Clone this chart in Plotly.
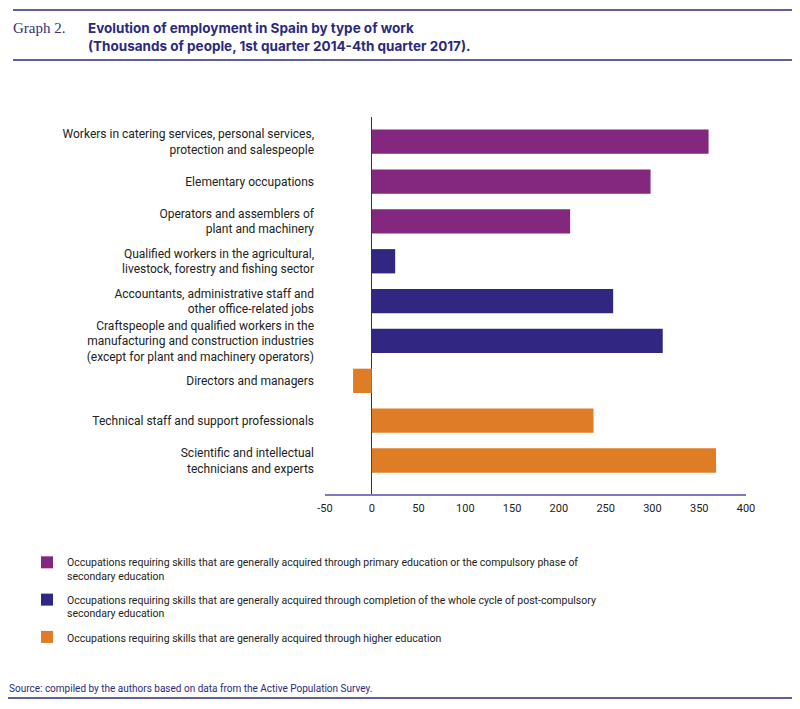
import plotly.graph_objects as go

# categories from bottom to top of the chart
categories = [
    "Scientific and intellectual<br>technicians and experts",
    "Technical staff and support professionals",
    "Directors and managers",
    "Craftspeople and qualified workers in the<br>manufacturing and construction industries<br>(except for plant and machinery operators)",
    "Accountants, administrative staff and<br>other office-related jobs",
    "Qualified workers in the agricultural,<br>livestock, forestry and fishing sector",
    "Operators and assemblers of<br>plant and machinery",
    "Elementary occupations",
    "Workers in catering services, personal services,<br>protection and salespeople",
]

higher_cats = categories[0:3]
higher_vals = [368, 237, -20]

post_cats = categories[3:6]
post_vals = [311, 258, 25]

primary_cats = categories[6:9]
primary_vals = [212, 298, 360]

legend_names = [
    "Occupations requiring skills that are generally acquired through primary education or the compulsory phase of<br>secondary education",
    "Occupations requiring skills that are generally acquired through completion of the whole cycle of post-compulsory<br>secondary education",
    "Occupations requiring skills that are generally acquired through higher education",
]

x_ticks = [-50, 0, 50, 100, 150, 200, 250, 300, 350, 400]

PURPLE = "#84277F"
NAVY = "#312782"
ORANGE = "#DF7D27"
DARK = "#2B2A7C"

# the page body adds an 8px margin, so the figure is drawn 8px in from the window corner
OFF = 8
W, H = 800 - OFF, 709 - OFF
L, R, T, B = 325 - OFF, 54, 117 - OFF, 215
PW, PH = W - L - R, H - T - B


def px(x):
    # window pixel -> paper x
    return (x - OFF - L) / PW


def py(y):
    # window pixel -> paper y
    return (H + OFF - B - y) / PH


fig = go.Figure()
for cats, vals, color, name in [
    (primary_cats, primary_vals, PURPLE, legend_names[0]),
    (post_cats, post_vals, NAVY, legend_names[1]),
    (higher_cats, higher_vals, ORANGE, legend_names[2]),
]:
    fig.add_trace(go.Bar(
        y=cats, x=vals, orientation="h", name=name, legendgroup=name,
        marker=dict(color=color, line=dict(width=0)),
        width=0.61,
    ))

fig.update_layout(
    width=W, height=H,
    margin=dict(l=L, r=R, t=T, b=B, autoexpand=False),
    paper_bgcolor="white", plot_bgcolor="white",
    barmode="overlay",
    font=dict(family="Roboto, Liberation Sans, sans-serif", size=12, color="#222222"),
    xaxis=dict(
        range=[-50, 400], tickvals=x_ticks, ticktext=[str(v) for v in x_ticks],
        showgrid=False, showline=True, linecolor="#7F78C0", linewidth=1.5,
        zeroline=True, zerolinecolor=DARK, zerolinewidth=1.2,
        ticks="", ticklabelstandoff=3, tickfont=dict(size=11, color="#222222"),
    ),
    yaxis=dict(
        type="category", categoryorder="array", categoryarray=categories,
        range=[-0.84, 8.62], showgrid=False, showline=False, zeroline=False,
        ticks="", ticklabelstandoff=10, tickfont=dict(size=12, color="#222222"),
    ),
    legend=dict(
        xref="container", yref="container",
        x=(27 - OFF) / W, y=1 - (549 - OFF) / H,
        xanchor="left", yanchor="top", traceorder="grouped", valign="top",
        font=dict(family="Roboto, sans-serif", size=10.5, color="#222222"),
        tracegroupgap=7, itemwidth=30,
    ),
    showlegend=True,
)

# header rules
for yy in [10, 60]:
    fig.add_shape(type="line", xref="paper", yref="paper",
                  x0=px(13), x1=px(792), y0=py(yy), y1=py(yy),
                  line=dict(color=DARK, width=1.5))
# bottom rule
fig.add_shape(type="line", xref="paper", yref="paper",
              x0=px(8), x1=px(793), y0=py(698), y1=py(698),
              line=dict(color=DARK, width=1.5))

fig.add_annotation(
    text="Graph 2.", xref="paper", yref="paper", x=px(11), y=py(18),
    xanchor="left", yanchor="top", showarrow=False, align="left",
    font=dict(family="Liberation Serif, DejaVu Serif, serif", size=15, color="#33316F"),
)
fig.add_annotation(
    text="<b>Evolution of employment in Spain by type of work<br>(Thousands of people, 1st quarter 2014-4th quarter 2017).</b>",
    xref="paper", yref="paper", x=px(86), y=py(18),
    xanchor="left", yanchor="top", showarrow=False, align="left",
    font=dict(family="Inter, Liberation Sans, sans-serif", size=13.5, color=DARK),
)
fig.add_annotation(
    text="Source: compiled by the authors based on data from the Active Population Survey.",
    xref="paper", yref="paper", x=px(7), y=py(688),
    xanchor="left", yanchor="middle", showarrow=False, align="left",
    font=dict(family="Roboto, sans-serif", size=10, color=DARK),
)

fig.write_html("out.html")
